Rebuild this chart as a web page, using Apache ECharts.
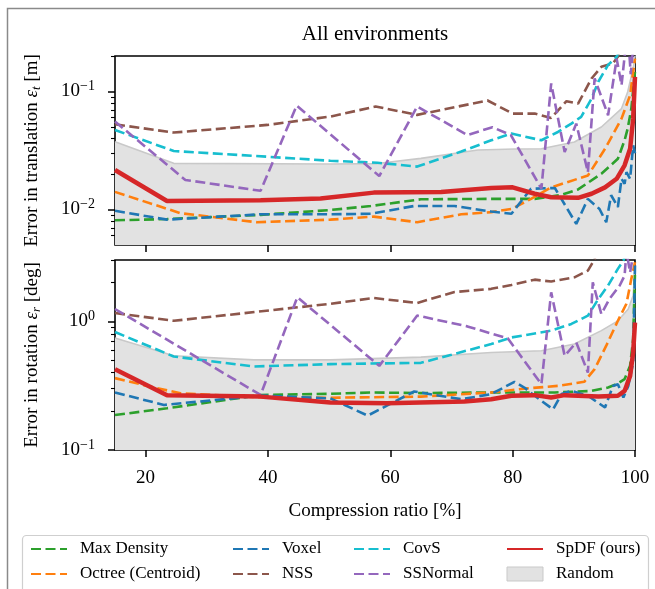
<!DOCTYPE html>
<html>
<head>
<meta charset="utf-8">
<script src="https://cdn.jsdelivr.net/npm/echarts@6/dist/echarts.min.js"></script>
<style>
  html, body { margin: 0; padding: 0; background: #fff; }
  #chart { width: 655px; height: 589px; }
</style>
</head>
<body>
<div id="chart"></div>
<script>
const FONT = "Liberation Serif";

// x ticks (compression ratio, %)
const xTicks = [20, 40, 60, 80, 100];

// ---- top panel: error in translation [m]
const tMaxDensityX = [15, 23.5, 38.8, 50.2, 56.8, 65, 76.5, 83.6, 88.0, 90.7, 94.5, 97.2, 98.3, 98.8, 99.4, 100];
const tMaxDensityY = [0.0081, 0.0083, 0.0090, 0.0099, 0.0107, 0.0122, 0.0123, 0.0123, 0.0133, 0.0148, 0.0201, 0.0269, 0.0386, 0.0484, 0.0717, 0.148];
const tOctreeX = [15, 25.7, 38.2, 50.2, 57.3, 64.4, 71.6, 76.5, 79.8, 83.0, 86.3, 92.3, 95.1, 97.8, 99.2, 99.7, 100];
const tOctreeY = [0.0141, 0.0093, 0.0078, 0.0082, 0.0087, 0.0078, 0.0091, 0.0095, 0.0101, 0.0123, 0.0154, 0.0194, 0.0327, 0.0589, 0.093, 0.147, 0.19];
const tVoxelX = [15, 23.5, 38.8, 50.2, 56.8, 63.9, 70.5, 76.5, 79.8, 83.0, 86.9, 90.4, 92.3, 94.2, 95.3, 96.1, 97.2, 97.8, 98.3, 98.6, 99.2, 99.7, 100];
const tVoxelY = [0.00975, 0.0082, 0.0091, 0.0091, 0.0092, 0.0107, 0.0107, 0.0096, 0.0092, 0.015, 0.0152, 0.00755, 0.0123, 0.0101, 0.0078, 0.0132, 0.0105, 0.0182, 0.0165, 0.0207, 0.0182, 0.035, 0.030];
const tNssX = [15, 24.6, 39.9, 50.2, 57.6, 64.4, 75.9, 80.0, 83.6, 86.3, 88.8, 90.7, 92.9, 94.5, 96.4, 97.2, 98.5];
const tNssY = [0.0527, 0.0449, 0.0521, 0.0613, 0.0746, 0.0634, 0.0839, 0.065, 0.065, 0.0597, 0.0828, 0.079, 0.129, 0.162, 0.173, 0.197, 0.3];
const tCovsX = [15, 24.6, 39.9, 50.2, 57.9, 64.4, 71.6, 76.5, 79.8, 84.7, 87.4, 89.6, 91.2, 92.9, 94, 95.6, 97, 98.5];
const tCovsY = [0.0472, 0.0313, 0.028, 0.0259, 0.0249, 0.0231, 0.031, 0.0386, 0.044, 0.0386, 0.0454, 0.0534, 0.061, 0.087, 0.121, 0.168, 0.197, 0.3];
const tSsnormalX = [15, 26.5, 38.8, 44.7, 58.2, 64.4, 72.6, 76.7, 79.7, 84.7, 86.3, 88.5, 90.4, 92.3, 93.4, 95.6, 97.0, 97.8, 98.8, 99.3, 100];
const tSsnormalY = [0.0556, 0.0178, 0.0144, 0.076, 0.0192, 0.0746, 0.0428, 0.0498, 0.0428, 0.015, 0.117, 0.0307, 0.0534, 0.0207, 0.129, 0.063, 0.19, 0.113, 0.35, 0.14, 0.35];
const tSpdfX = [15, 23.5, 38.8, 48.6, 57.3, 68.3, 76.5, 80.0, 83.6, 86.3, 90.7, 92.9, 95.1, 97.0, 98.3, 99.2, 99.7, 100];
const tSpdfY = [0.0216, 0.0118, 0.0120, 0.0124, 0.0139, 0.0141, 0.0152, 0.0154, 0.0136, 0.0127, 0.01256, 0.0136, 0.0154, 0.0182, 0.0237, 0.0327, 0.0589, 0.133];
const tRandomX = [15, 24.6, 50.2, 57.9, 65, 74.3, 80.3, 84.7, 90.1, 94.5, 97.8, 98.8, 99.7, 100];
const tRandomY = [0.0376, 0.0246, 0.0243, 0.0245, 0.0271, 0.0319, 0.0326, 0.0327, 0.0373, 0.05, 0.0717, 0.099, 0.157, 0.2];

// ---- bottom panel: error in rotation [deg]
const rMaxDensityX = [15, 23.5, 38.8, 49.7, 56.8, 65, 76.5, 86.9, 92.9, 95.6, 97, 98.3, 99.2, 99.7, 100];
const rMaxDensityY = [0.187, 0.211, 0.268, 0.273, 0.28, 0.277, 0.28, 0.28, 0.288, 0.306, 0.325, 0.356, 0.452, 0.73, 2.41];
const rOctreeX = [15, 21.8, 25.7, 38.8, 50.2, 65, 76.5, 81.9, 87.4, 91.7, 93.4, 95.3, 97.2, 98.6, 99.4, 100];
const rOctreeY = [0.362, 0.303, 0.276, 0.257, 0.255, 0.26, 0.28, 0.30, 0.315, 0.339, 0.425, 0.647, 1.01, 1.37, 2.14, 2.88];
const rVoxelX = [15, 23, 38.8, 50.2, 56.3, 63.9, 71.6, 76.5, 80.3, 81.9, 83.6, 86.6, 88, 89.6, 92.3, 95.1, 96.4, 97.2, 98.1, 98.9, 99.7, 100];
const rVoxelY = [0.28, 0.224, 0.265, 0.252, 0.185, 0.285, 0.248, 0.272, 0.339, 0.306, 0.264, 0.207, 0.272, 0.288, 0.264, 0.214, 0.315, 0.325, 0.256, 0.315, 0.479, 2.72];
const rNssX = [15, 24.6, 50.2, 57.3, 64.4, 70.5, 76.5, 79.8, 83.6, 86.3, 90.1, 92.3, 93.1, 94];
const rNssY = [1.161, 1.01, 1.37, 1.52, 1.39, 1.69, 1.79, 1.92, 2.11, 2.04, 2.2, 2.48, 2.88, 3.5];
const rCovsX = [15, 24.6, 37.7, 50.2, 65, 70, 76.5, 79.8, 86.3, 89.6, 92.3, 94, 95.6, 97.2, 98.1, 99];
const rCovsY = [0.826, 0.533, 0.446, 0.465, 0.476, 0.55, 0.667, 0.75, 0.847, 0.955, 1.107, 1.49, 1.9, 2.56, 2.97, 4];
const rSsnormalX = [15, 38.8, 44.8, 58.2, 64.4, 72.6, 79.2, 84.7, 86.3, 88.5, 90.4, 92.3, 93.1, 94.5, 95.8, 97.5, 98.3, 98.6, 99.2, 100];
const rSsnormalY = [1.248, 0.268, 1.54, 0.451, 1.11, 0.914, 0.738, 0.325, 1.68, 0.54, 0.686, 0.4, 2.01, 1.14, 1.49, 1.9, 2.27, 3.5, 2.4, 4];
const rSpdfX = [15, 23.5, 38.8, 50.2, 59.5, 72.1, 76.5, 79.8, 83.6, 86.3, 88.5, 94, 97.2, 98.3, 99.2, 99.7, 100];
const rSpdfY = [0.425, 0.267, 0.26, 0.234, 0.231, 0.238, 0.248, 0.264, 0.267, 0.256, 0.267, 0.26, 0.264, 0.288, 0.377, 0.573, 0.98];
const rRandomX = [15, 24.6, 37.7, 50.2, 65, 76.5, 84.7, 90.1, 94.5, 97.2, 98.9, 99.7, 100];
const rRandomY = [0.742, 0.54, 0.502, 0.502, 0.527, 0.573, 0.591, 0.667, 0.847, 1.01, 1.25, 1.59, 2.7];

// y tick values
const tMajor = [0.01, 0.1];
const tMinor = [0.006, 0.007, 0.008, 0.009, 0.02, 0.03, 0.04, 0.05, 0.06, 0.07, 0.08, 0.09, 0.2];
const rMajor = [0.1, 1];
const rMinor = [0.2, 0.3, 0.4, 0.5, 0.6, 0.7, 0.8, 0.9, 2, 3];

const COLORS = {
  maxDensity: "#2ca02c",
  octree: "#ff7f0e",
  voxel: "#1f77b4",
  nss: "#8c564b",
  covs: "#17becf",
  ssnormal: "#9467bd",
  spdf: "#d62728",
};

function pairs(xs, ys) {
  return xs.map((x, i) => [x, ys[i]]);
}

function dashed(name, color, xs, ys, idx) {
  return {
    name: name,
    type: "line",
    xAxisIndex: idx,
    yAxisIndex: idx,
    data: pairs(xs, ys),
    symbol: "none",
    lineStyle: { color: color, width: 2.6, type: [10, 4.5] },
    itemStyle: { color: color },
    z: 3,
  };
}

function solid(name, color, xs, ys, idx) {
  return {
    name: name,
    type: "line",
    xAxisIndex: idx,
    yAxisIndex: idx,
    data: pairs(xs, ys),
    symbol: "none",
    lineStyle: { color: color, width: 4.5 },
    itemStyle: { color: color },
    z: 4,
  };
}

function random(xs, ys, idx) {
  return {
    name: "Random",
    type: "line",
    xAxisIndex: idx,
    yAxisIndex: idx,
    data: pairs(xs, ys),
    symbol: "none",
    lineStyle: { color: "#c9c9c9", width: 1.6 },
    itemStyle: { color: "#e2e2e2" },
    areaStyle: { color: "#e2e2e2", opacity: 1, origin: "start" },
    z: 1,
  };
}

function powLabel(v) {
  const e = Math.round(Math.log10(v));
  return "{b|10}{s|" + (e < 0 ? "\u2212" + -e : e) + "}";
}

const labelRich = {
  b: { fontSize: 19, fontFamily: FONT, color: "#000", lineHeight: 24 },
  s: { fontSize: 14, fontFamily: FONT, color: "#000", lineHeight: 14, verticalAlign: "top" },
};

const nameRich = {
  n: { fontSize: 19, fontFamily: FONT, color: "#000", lineHeight: 22 },
  e: { fontSize: 19, fontFamily: FONT, color: "#000", fontStyle: "italic", lineHeight: 22 },
  s: { fontSize: 13, fontFamily: FONT, color: "#000", fontStyle: "italic", lineHeight: 13, verticalAlign: "bottom" },
};

function xAxis(idx, showLabels) {
  const ax = {
    type: "value",
    gridIndex: idx,
    min: 15,
    max: 100,
    axisLine: { show: false },
    splitLine: { show: false },
    axisTick: { show: true, length: 7, customValues: xTicks, lineStyle: { color: "#000", width: 1.5 } },
    axisLabel: {
      show: showLabels,
      customValues: xTicks,
      margin: 19,
      fontSize: 19,
      fontFamily: FONT,
      color: "#000",
    },
  };
  if (showLabels) {
    ax.name = "Compression ratio [%]";
    ax.nameLocation = "middle";
    ax.nameGap = 52;
    ax.nameTextStyle = { fontSize: 19, fontFamily: FONT, color: "#000" };
  }
  return ax;
}

function yMajor(idx, min, max, ticks, name) {
  return {
    type: "log",
    logBase: 10,
    gridIndex: idx,
    position: "left",
    min: min,
    max: max,
    axisLine: { show: false },
    splitLine: { show: false },
    axisTick: { show: true, length: 7, customValues: ticks, lineStyle: { color: "#000", width: 1.5 } },
    axisLabel: {
      customValues: ticks,
      margin: 20,
      formatter: powLabel,
      rich: labelRich,
    },
    name: name,
    nameLocation: "middle",
    nameGap: 72,
    nameTextStyle: { rich: nameRich },
  };
}

function yMinor(idx, min, max, ticks) {
  return {
    type: "log",
    logBase: 10,
    gridIndex: idx,
    position: "left",
    min: min,
    max: max,
    axisLine: { show: false },
    splitLine: { show: false },
    axisLabel: { show: false },
    axisTick: { show: true, length: 4, customValues: ticks, lineStyle: { color: "#000", width: 1.1 } },
  };
}

const legendText = { fontSize: 17, fontFamily: FONT, color: "#000", lineHeight: 18, padding: [0, 0, 0, 8] };
function legendCol(left, names) {
  return {
    orient: "vertical",
    left: left,
    top: 540,
    padding: 0,
    itemGap: 7,
    itemWidth: 36,
    itemHeight: 14,
    selectedMode: false,
    itemStyle: { opacity: 0 },
    textStyle: legendText,
    data: names,
  };
}

const chart = echarts.init(document.getElementById("chart"), null, { renderer: "canvas" });

chart.setOption({
  animation: false,
  backgroundColor: "#fff",
  graphic: [
    {
      type: "rect",
      shape: { x: 7.5, y: 8.5, width: 700, height: 700 },
      style: { fill: "none", stroke: "#8a8a8a", lineWidth: 1.5 },
      z: 0,
    },
    {
      type: "text",
      x: 375,
      y: 34,
      style: {
        text: "All environments",
        fontSize: 21,
        fontFamily: FONT,
        fill: "#000",
        textAlign: "center",
        textVerticalAlign: "middle",
      },
    },
    {
      type: "rect",
      shape: { x: 22.5, y: 535.5, width: 626, height: 70, r: 4 },
      style: { fill: "#fff", stroke: "#cfcfcf", lineWidth: 1.2 },
      z: 1,
    },
  ],
  grid: [
    { left: 115, right: 20, top: 56, height: 189, show: true, borderColor: "#000", borderWidth: 1.6 },
    { left: 115, right: 20, top: 260, height: 190, show: true, borderColor: "#000", borderWidth: 1.6 },
  ],
  xAxis: [xAxis(0, false), xAxis(1, true)],
  yAxis: [
    yMajor(0, 0.005, 0.2, tMajor, "{n|Error in translation }{e|\u03b5}{s|t}{n| [m]}"),
    yMajor(1, 0.1, 3, rMajor, "{n|Error in rotation }{e|\u03b5}{s|r}{n| [deg]}"),
    yMinor(0, 0.005, 0.2, tMinor),
    yMinor(1, 0.1, 3, rMinor),
  ],
  legend: [
    legendCol(30, ["Max Density", "Octree (Centroid)"]),
    legendCol(232, ["Voxel", "NSS"]),
    legendCol(353, ["CovS", "SSNormal"]),
    legendCol(506, [
      "SpDF (ours)",
      { name: "Random", icon: "rect", itemStyle: { color: "#e2e2e2", borderColor: "#c9c9c9", borderWidth: 1, opacity: 1 } },
    ]),
  ],
  series: [
    random(tRandomX, tRandomY, 0),
    dashed("Max Density", COLORS.maxDensity, tMaxDensityX, tMaxDensityY, 0),
    dashed("Octree (Centroid)", COLORS.octree, tOctreeX, tOctreeY, 0),
    dashed("Voxel", COLORS.voxel, tVoxelX, tVoxelY, 0),
    dashed("NSS", COLORS.nss, tNssX, tNssY, 0),
    dashed("CovS", COLORS.covs, tCovsX, tCovsY, 0),
    dashed("SSNormal", COLORS.ssnormal, tSsnormalX, tSsnormalY, 0),
    solid("SpDF (ours)", COLORS.spdf, tSpdfX, tSpdfY, 0),

    random(rRandomX, rRandomY, 1),
    dashed("Max Density", COLORS.maxDensity, rMaxDensityX, rMaxDensityY, 1),
    dashed("Octree (Centroid)", COLORS.octree, rOctreeX, rOctreeY, 1),
    dashed("Voxel", COLORS.voxel, rVoxelX, rVoxelY, 1),
    dashed("NSS", COLORS.nss, rNssX, rNssY, 1),
    dashed("CovS", COLORS.covs, rCovsX, rCovsY, 1),
    dashed("SSNormal", COLORS.ssnormal, rSsnormalX, rSsnormalY, 1),
    solid("SpDF (ours)", COLORS.spdf, rSpdfX, rSpdfY, 1),
  ],
});
</script>
</body>
</html>
